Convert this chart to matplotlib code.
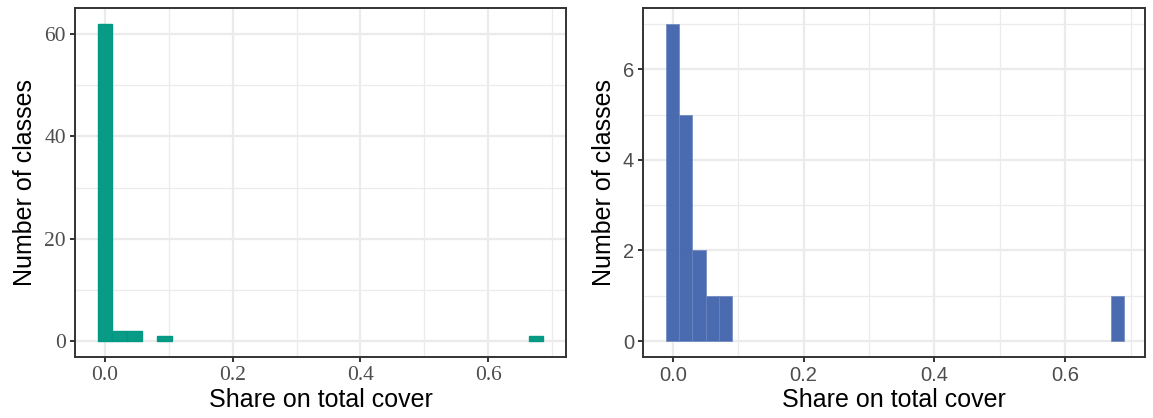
import matplotlib
matplotlib.use("Agg")
import matplotlib.pyplot as plt
from matplotlib.ticker import MultipleLocator

# left histogram: bin width ~ range/29 (ggplot bins=30), centred on 0
left_width = 0.0234
left_centres = [0.0, 0.0234, 0.0468, 0.0936, 0.675]
left_counts = [62, 2, 2, 1, 1]

# right histogram: bin width 0.02
right_width = 0.02
right_centres = [0.0, 0.02, 0.04, 0.06, 0.08, 0.68]
right_counts = [7, 5, 2, 1, 1, 1]

x_ticks = [0.0, 0.2, 0.4, 0.6]
x_tick_labels = ["0.0", "0.2", "0.4", "0.6"]
x_label = "Share on total cover"
y_label = "Number of classes"

TEAL = "#009882"; BLUE = "#4063AC"; GRID = "#EBEBEB"; DARK = "#333333"; TICKTXT = "#4D4D4D"

fig = plt.figure(figsize=(11.53, 4.18), dpi=100)
axL = fig.add_axes([75 / 1153, 1 - 357 / 418, (566 - 75) / 1153, (357 - 8) / 418])
axR = fig.add_axes([643 / 1153, 1 - 357 / 418, (1145 - 643) / 1153, (357 - 8) / 418])


def style(ax, yticks, ymin_step, tick_font, tick_size):
    ax.set_xticks(x_ticks)
    ax.set_xticklabels(x_tick_labels)
    ax.xaxis.set_minor_locator(MultipleLocator(0.1))
    ax.set_yticks(yticks)
    ax.yaxis.set_minor_locator(MultipleLocator(ymin_step))
    ax.grid(which="major", color=GRID, lw=1.6, zorder=0)
    ax.grid(which="minor", color=GRID, lw=0.9, zorder=0)
    ax.set_axisbelow(True)
    for s in ax.spines.values():
        s.set_color(DARK); s.set_linewidth(1.4); s.set_zorder(5)
    ax.tick_params(which="major", length=3.5, width=1.4, color=DARK,
                   labelsize=tick_size, labelcolor=TICKTXT, pad=3)
    ax.tick_params(which="minor", length=0)
    for lab in ax.get_xticklabels() + ax.get_yticklabels():
        lab.set_family(tick_font)
    ax.set_xlabel(x_label, fontsize=18, family="Liberation Sans", color="black", labelpad=2)
    ax.set_ylabel(y_label, fontsize=18, family="Liberation Sans", color="black", labelpad=5)


axL.bar(left_centres, left_counts, width=left_width, color=TEAL, alpha=0.97,
        edgecolor=TEAL, linewidth=1.0, zorder=2)
axL.set_xlim(-0.047, 0.722)
axL.set_ylim(-3.1, 65.1)
style(axL, [0, 20, 40, 60], 10, "Liberation Serif", 15.5)

axR.bar(right_centres, right_counts, width=right_width, color=BLUE, alpha=0.95,
        edgecolor="#6A84BF", linewidth=0.5, zorder=2)
axR.set_xlim(-0.0456, 0.722)
axR.set_ylim(-0.35, 7.35)
style(axR, [0, 2, 4, 6], 1, "Liberation Sans", 14.5)

fig.savefig("out.png", dpi=100, facecolor="white")
